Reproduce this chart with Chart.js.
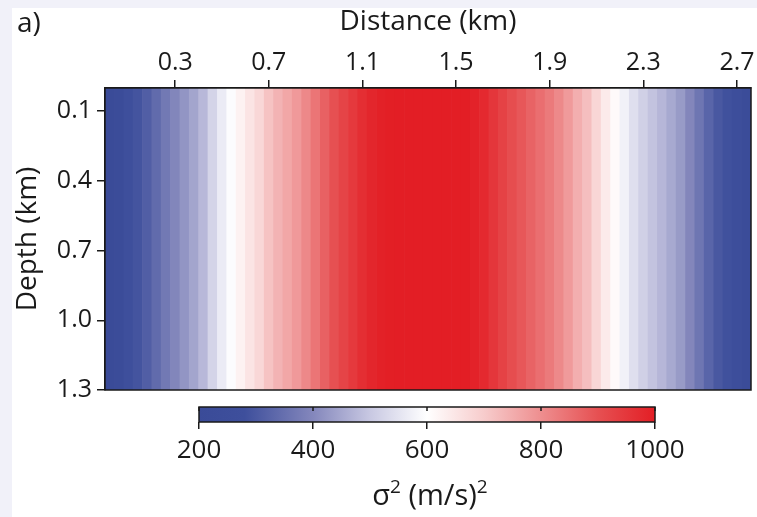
<!DOCTYPE html>
<html>
<head>
<meta charset="utf-8">
<script src="https://cdn.jsdelivr.net/npm/chart.js@4.4.1/dist/chart.umd.min.js"></script>
<style>
  body { margin: 0; width: 757px; height: 517px; background: #f1f1f9; position: relative; overflow: hidden; font-family: "Open Sans", sans-serif; color: #1a1a1a; }
  #panel { position: absolute; left: 12px; top: 8px; width: 745px; height: 509px; background: #fff; }
  #mainChart { position: absolute; left: 0; top: 0; }
  #barChart { position: absolute; left: 0; top: 390px; }
  #tag { position: absolute; left: 17px; top: 2px; font-size: 28px; }
  #cbTitle { position: absolute; left: 0; width: 860px; top: 474px; text-align: center; font-size: 29px; }
  #cbTitle sup { font-size: 19px; vertical-align: 12px; line-height: 0; }
</style>
</head>
<body>
<div id="panel"></div>
<canvas id="mainChart" width="757" height="517"></canvas>
<canvas id="barChart" width="757" height="127"></canvas>
<div id="tag">a)</div>
<div id="cbTitle">σ<sup>2</sup> (m/s)<sup>2</sup></div>
<script>
// cell centres along the profile (km)
const distanceKm = [
  0.02, 0.06, 0.10, 0.14, 0.18, 0.22, 0.26, 0.30, 0.34, 0.38,
  0.42, 0.46, 0.50, 0.54, 0.58, 0.62, 0.66, 0.70, 0.74, 0.78,
  0.82, 0.86, 0.90, 0.94, 0.98, 1.02, 1.06, 1.10, 1.14, 1.18,
  1.22, 1.26, 1.30, 1.34, 1.38, 1.42, 1.46, 1.50, 1.54, 1.58,
  1.62, 1.66, 1.70, 1.74, 1.78, 1.82, 1.86, 1.90, 1.94, 1.98,
  2.02, 2.06, 2.10, 2.14, 2.18, 2.22, 2.26, 2.30, 2.34, 2.38,
  2.42, 2.46, 2.50, 2.54, 2.58, 2.62, 2.66, 2.70, 2.74
];
// sigma^2 (m/s)^2, same at every depth
const sigma2 = [
  200, 220, 280, 290, 312, 340, 369, 397, 421, 446,
  476, 521, 564, 595, 625, 653, 678, 715, 740, 760,
  782, 810, 841, 872, 900, 924, 946, 968, 984, 995,
  999, 1000, 1000, 1000, 1000, 1000, 1000, 1000, 1000, 992,
  978, 952, 928, 906, 888, 869, 851, 832, 808, 780,
  748, 722, 680, 642, 610, 575, 542, 515, 492, 473,
  452, 430, 398, 363, 327, 299, 284, 250, 210
];
const depthRange = [0, 1.3];
const distanceTicks = [0.3, 0.7, 1.1, 1.5, 1.9, 2.3, 2.7];
const depthTicks = [0.1, 0.4, 0.7, 1.0, 1.3];
const colorbarTicks = [200, 400, 600, 800, 1000];

// colour scale stops
const cmapValues = [200, 280, 400, 500, 600, 700, 800, 900, 1000];
const cmapColors = [
  [58, 75, 152], [62, 79, 156], [132, 135, 188], [200, 200, 226], [255, 255, 255],
  [247, 204, 204], [238, 142, 143], [230, 80, 82], [227, 30, 37]
];

function cmap(v) {
  if (v <= cmapValues[0]) return rgb(cmapColors[0]);
  for (let i = 1; i < cmapValues.length; i++) {
    if (v <= cmapValues[i]) {
      const t = (v - cmapValues[i - 1]) / (cmapValues[i] - cmapValues[i - 1]);
      const a = cmapColors[i - 1], b = cmapColors[i];
      return rgb(a.map((c, k) => c + (b[k] - c) * t));
    }
  }
  return rgb(cmapColors[cmapColors.length - 1]);
}
function rgb(c) {
  return `rgb(${c.map(Math.round).join(",")})`;
}

const ink = "#1a1a1a";
const font = { family: "Open Sans", size: 25 };
const titleFont = { family: "Open Sans", size: 28 };

const frame = {
  id: "frame",
  afterDatasetsDraw(chart) {
    const { ctx, chartArea: a } = chart;
    ctx.save();
    ctx.strokeStyle = ink;
    ctx.lineWidth = 1.5;
    ctx.strokeRect(a.left, a.top, a.right - a.left, a.bottom - a.top);
    ctx.restore();
  }
};

new Chart(document.getElementById("mainChart"), {
  type: "bar",
  data: {
    datasets: [{
      data: distanceKm.map(d => ({ x: d, y: depthRange })),
      backgroundColor: sigma2.map(cmap),
      borderWidth: 0,
      barPercentage: 1,
      categoryPercentage: 1
    }]
  },
  options: {
    responsive: false,
    animation: false,
    events: [],
    layout: { padding: { left: 0, top: 0, right: 6, bottom: 127 } },
    plugins: { legend: { display: false }, tooltip: { enabled: false } },
    scales: {
      x: {
        type: "linear",
        position: "top",
        min: 0,
        max: 2.76,
        offset: false,
        afterFit: s => { s.height = 88; },
        afterBuildTicks: s => { s.ticks = distanceTicks.map(v => ({ value: v })); },
        ticks: { color: ink, font, padding: 2, maxRotation: 0, callback: v => v.toFixed(1) },
        grid: { offset: false, drawOnChartArea: false, drawTicks: true, tickLength: 8, color: ink, lineWidth: 1.5 },
        border: { display: true, color: ink, width: 1.5 },
        title: { display: true, text: "Distance (km)", color: ink, font: titleFont, padding: { top: 5, bottom: 0 } }
      },
      y: {
        type: "linear",
        min: 0,
        max: 1.3,
        reverse: true,
        afterFit: s => { s.width = 105; },
        afterBuildTicks: s => { s.ticks = depthTicks.map(v => ({ value: v })); },
        ticks: { color: ink, font, padding: 5, callback: v => v.toFixed(1) },
        grid: { drawOnChartArea: false, drawTicks: true, tickLength: 8, color: ink, lineWidth: 1.5 },
        border: { display: true, color: ink, width: 1.5 },
        title: { display: true, text: "Depth (km)", color: ink, font: titleFont, padding: { top: 11, bottom: 0 } }
      }
    }
  },
  plugins: [frame]
});

const colorbar = {
  id: "colorbar",
  beforeDatasetsDraw(chart) {
    const { ctx, chartArea: a } = chart;
    const x = chart.scales.x;
    const g = ctx.createLinearGradient(x.getPixelForValue(cmapValues[0]), 0, x.getPixelForValue(cmapValues[cmapValues.length - 1]), 0);
    cmapValues.forEach((v, i) => {
      g.addColorStop((v - cmapValues[0]) / (cmapValues[cmapValues.length - 1] - cmapValues[0]), rgb(cmapColors[i]));
    });
    ctx.save();
    ctx.fillStyle = g;
    ctx.fillRect(a.left, a.top, a.right - a.left, a.bottom - a.top);
    ctx.strokeStyle = ink;
    ctx.lineWidth = 1.5;
    ctx.strokeRect(a.left, a.top, a.right - a.left, a.bottom - a.top);
    colorbarTicks.forEach(v => {
      const px = x.getPixelForValue(v);
      ctx.beginPath();
      ctx.moveTo(px, a.top);
      ctx.lineTo(px, a.top + 4);
      ctx.stroke();
    });
    ctx.restore();
  }
};

new Chart(document.getElementById("barChart"), {
  type: "scatter",
  data: { datasets: [{ data: [] }] },
  options: {
    responsive: false,
    animation: false,
    events: [],
    layout: { padding: { left: 199, top: 17, right: 102, bottom: 0 } },
    plugins: { legend: { display: false }, tooltip: { enabled: false } },
    scales: {
      x: {
        type: "linear",
        min: 200,
        max: 1000,
        afterFit: s => { s.height = 95; },
        afterBuildTicks: s => { s.ticks = colorbarTicks.map(v => ({ value: v })); },
        ticks: { color: ink, font: { family: "Open Sans", size: 26 }, padding: 6, maxRotation: 0, callback: v => String(v) },
        grid: { drawOnChartArea: false, drawTicks: true, tickLength: 7, color: ink, lineWidth: 1.5 },
        border: { display: false }
      },
      y: { display: false, min: 0, max: 1 }
    }
  },
  plugins: [colorbar]
});
</script>
</body>
</html>
